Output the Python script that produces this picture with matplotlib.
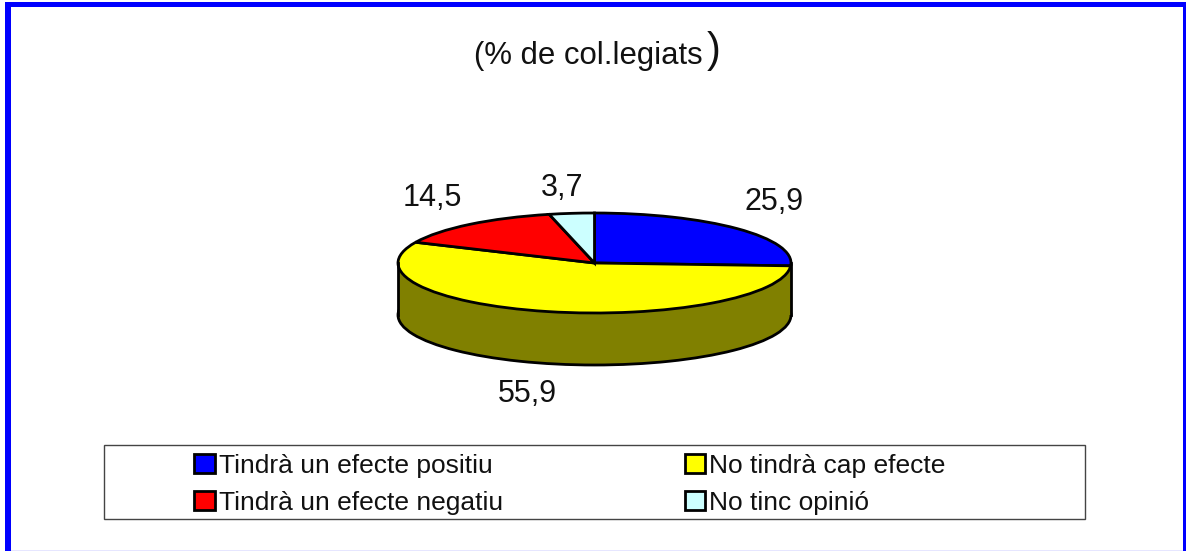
import matplotlib
matplotlib.use('Agg')
import matplotlib.pyplot as plt
from matplotlib.patches import Rectangle

plt.rcParams['font.family'] = ['Liberation Sans', 'DejaVu Sans']

labels = ['Tindrà un efecte positiu', 'No tindrà cap efecte',
          'Tindrà un efecte negatiu', 'No tinc opinió']
values = [25.9, 55.9, 14.5, 3.7]
value_labels = ['25,9', '55,9', '14,5', '3,7']
colors = ['#0000ff', '#ffff00', '#ff0000', '#ccffff']
side_color = '#808000'

W, H = 1186, 551
fig = plt.figure(figsize=(W / 100, H / 100), dpi=100, facecolor='white')

# background axes in pixel coords, y going down like the picture
bg = fig.add_axes([0, 0, 1, 1])
bg.set_xlim(0, W)
bg.set_ylim(H, 0)
bg.axis('off')

# blue outer frame
bg.add_patch(Rectangle((5, 2), 6, 549, fc='#0000ff', ec='none'))
bg.add_patch(Rectangle((5, 2), 1181, 5, fc='#0000ff', ec='none'))
bg.add_patch(Rectangle((1183, 2), 3, 549, fc='#0000ff', ec='none'))
bg.add_patch(Rectangle((11, 550), 1172, 1, fc='#e6e6ff', ec='none'))

# title, the closing bracket is bigger in the original
bg.text(474, 56, '(% de col.legiats', fontsize=22.4, ha='left', va='center', color='#111111')
bg.text(707, 51, ')', fontsize=30, ha='left', va='center', color='#111111')

# legend box
bg.add_patch(Rectangle((104, 445), 981, 74, fc='white', ec='#444444', lw=1))

# pie axes: x -1..1 is 398..791, top ellipse y is 213..313
depth = 52 / 50
left, right, top, bottom = 398, 791, 213, 365
ax = fig.add_axes([left / W, 1 - bottom / H, (right - left) / W, (bottom - top) / H])

# side wall: lower disc plus a band joining it to the top disc
ax.pie([1], colors=[side_color], radius=1, center=(0, -depth), frame=True,
       wedgeprops={'edgecolor': 'black', 'linewidth': 2})
ax.add_patch(Rectangle((-1, -depth), 2, depth, fc=side_color, ec='none'))
ax.plot([-1, -1], [-depth, 0], color='black', lw=2)
ax.plot([1, 1], [-depth, 0], color='black', lw=2)

wedges, _ = ax.pie(values, colors=colors, startangle=90, counterclock=False,
                   radius=1, frame=True,
                   wedgeprops={'edgecolor': 'black', 'linewidth': 2})
ax.set_aspect('auto')
ax.set_xlim(-1, 1)
ax.set_ylim(-1 - depth, 1)
ax.axis('off')
for a in ax.patches + ax.lines:
    a.set_clip_on(False)

# value labels sit outside the pie
label_pos = [(774, 202), (527, 394), (432, 198), (562, 188)]
for txt, (px, py) in zip(value_labels, label_pos):
    bg.text(px, py, txt, fontsize=22, ha='center', va='center', color='#111111')

# legend, two columns filled down so reorder the entries
order = [0, 2, 1, 3]
leg = fig.legend([wedges[i] for i in order], [labels[i] for i in order],
                 ncols=2, frameon=False, fontsize=19,
                 loc='upper left', bbox_to_anchor=(194 / W, 1 - 454 / H),
                 borderpad=0, borderaxespad=0, handlelength=0.78, handleheight=0.75,
                 handletextpad=0.15, labelspacing=0.48, columnspacing=6.9)
for t in leg.get_texts():
    t.set_color('#111111')

fig.savefig('out.png', dpi=100)
